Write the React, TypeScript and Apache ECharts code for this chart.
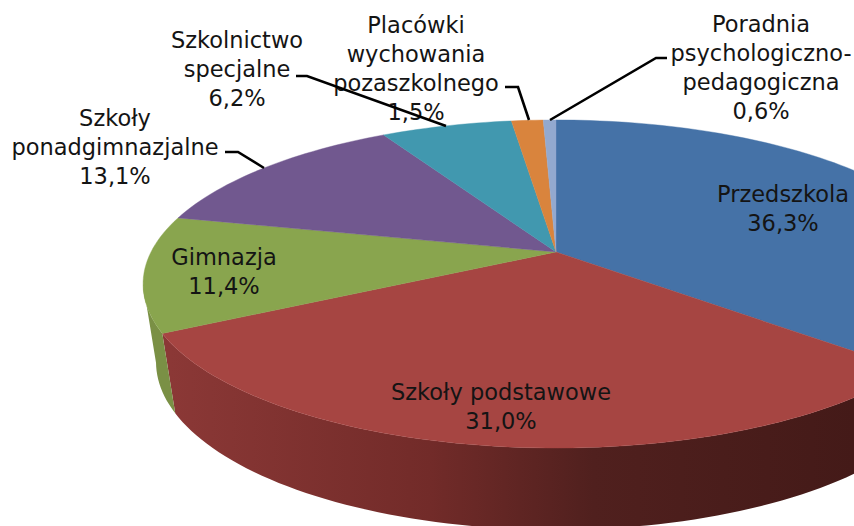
import React, { useEffect, useRef } from "react";
import * as echarts from "echarts";

const categories = [
  "Przedszkola",
  "Szkoły podstawowe",
  "Gimnazja",
  "Szkoły\nponadgimnazjalne",
  "Szkolnictwo\nspecjalne",
  "Placówki\nwychowania\npozaszkolnego",
  "Poradnia\npsychologiczno-\npedagogiczna",
];
const shares = [36.3, 31.0, 11.4, 13.1, 6.2, 1.5, 0.6];

const topColors = ["#4572A7", "#A64542", "#89A54E", "#71588F", "#4198AF", "#D9843D", "#93A9CF"];
const wallColors = ["#2c4a6e", "#6f2a28", "#7a9045", "#4e3d63", "#2c6a7a", "#96592a", "#65758f"];

const labelCenters: [number, number][] = [
  [783, 208],
  [501, 406],
  [224, 271],
  [115, 147],
  [237, 69],
  [416, 68],
  [761, 67],
];
const leaders: [number, number][][] = [
  [[225, 152], [238, 152], [264, 168]],
  [[296, 76], [307, 76], [446, 126]],
  [[505, 87], [518, 87], [529, 120]],
  [[667, 58], [656, 58], [550, 120]],
];

const total = shares.reduce((a, b) => a + b, 0);
const boundaries: number[] = [];
shares.reduce((acc, v) => {
  boundaries.push((acc / total) * 360);
  return acc + v;
}, 0);
boundaries.push(360);

// Perspective projection of a unit disc, clockwise from the top.
type Disc = { cx: number; cy: number; a: number; b: number; k: number };
const topDisc: Disc = { cx: 556, cy: 252, a: 405, b: 157.8, k: -0.195 };
const baseDisc: Disc = { cx: 556, cy: 330, a: 392.7, b: 161.8, k: -0.19 };
const project = (d: Disc, deg: number): [number, number] => {
  const t = (deg * Math.PI) / 180;
  const u = Math.sin(t);
  const v = -Math.cos(t);
  const w = 1 + d.k * v;
  return [d.cx + (d.a * u) / w, d.cy + (d.b * v) / w];
};
const arc = (d: Disc, from: number, to: number) => {
  const n = Math.max(2, Math.ceil((to - from) / 1.5));
  const pts: [number, number][] = [];
  for (let i = 0; i <= n; i++) pts.push(project(d, from + ((to - from) * i) / n));
  return pts;
};
const VIS_FROM = 101.2;
const VIS_TO = 258.8;

const renderWall = (params: any) => {
  const i = params.dataIndex;
  const from = Math.max(boundaries[i], VIS_FROM);
  const to = Math.min(boundaries[i + 1], VIS_TO);
  if (to <= from) return { type: "group", children: [] };
  const points = [...arc(topDisc, from, to), ...arc(baseDisc, from, to).reverse()];
  const fill =
    i === 1
      ? new echarts.graphic.LinearGradient(
          170,
          0,
          854,
          0,
          [
            { offset: 0, color: "#8B3836" },
            { offset: 0.38, color: "#722B29" },
            { offset: 0.62, color: "#50201E" },
            { offset: 1, color: "#441A18" },
          ],
          true
        )
      : wallColors[i];
  return { type: "polygon", shape: { points }, style: { fill, stroke: "none" } };
};

const renderTop = (params: any) => {
  const i = params.dataIndex;
  const points = [[topDisc.cx, topDisc.cy], ...arc(topDisc, boundaries[i], boundaries[i + 1])];
  return {
    type: "polygon",
    shape: { points },
    style: { fill: topColors[i], stroke: topColors[i], lineWidth: 0.4 },
  };
};

const percent = (v: number) => v.toFixed(1).replace(".", ",") + "%";

export default function App() {
  const ref = useRef<HTMLDivElement>(null);
  useEffect(() => {
    document.body.style.margin = "0";
    const chart = echarts.init(ref.current!, null, { renderer: "svg" });
    const data = shares.map((v, i) => ({ name: categories[i], value: v }));
    chart.setOption({
      animation: false,
      backgroundColor: "#ffffff",
      series: [
        { type: "custom", coordinateSystem: "none", renderItem: renderWall, data, z: 1, silent: true },
        { type: "custom", coordinateSystem: "none", renderItem: renderTop, data, z: 2, silent: true },
      ],
      graphic: {
        elements: [
          ...categories.map((name, i) => ({
            type: "text",
            x: labelCenters[i][0],
            y: labelCenters[i][1],
            z: 5,
            style: {
              text: `${name}\n${percent(shares[i])}`,
              fill: "#141414",
              font: '22.5px "DejaVu Sans"',
              lineHeight: 29,
              align: "center",
              verticalAlign: "middle",
            },
          })),
          ...leaders.map((points) => ({
            type: "polyline",
            z: 6,
            shape: { points },
            style: { stroke: "#000000", lineWidth: 2.6, fill: "none" },
          })),
        ],
      },
    });
    return () => chart.dispose();
  }, []);
  return <div ref={ref} style={{ width: 854, height: 526 }} />;
}
